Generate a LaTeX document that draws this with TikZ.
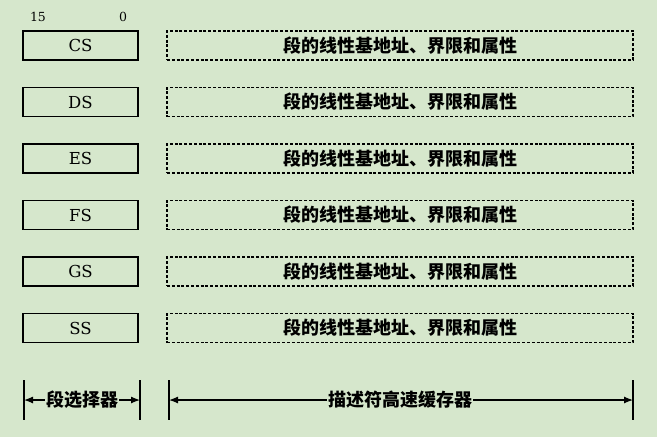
\documentclass[tikz,border=0pt]{standalone}
\usepackage{fontspec}
\newfontfamily\cjk{Noto Sans CJK SC}
\newfontfamily\lat{DejaVu Serif}
\usetikzlibrary{arrows.meta}
\definecolor{fond}{RGB}{214,231,204}
\tikzset{
  reg/.style={draw, line width=1.6pt, minimum width=115pt, minimum height=29pt,
    inner sep=0pt, font=\lat\fontsize{16.5}{16.5}\selectfont},
  cache/.style={draw, dash pattern=on 3pt off 1.8pt, line width=1.6pt,
    minimum width=466pt, minimum height=29pt, inner sep=0pt,
    font=\cjk\bfseries\fontsize{18}{18}\selectfont},
  borne/.style={line width=1.6pt},
  fleche/.style={line width=1.2pt, -{Latex[length=9pt,width=7pt]}},
  legende/.style={inner sep=1pt, font=\cjk\bfseries\fontsize{18}{18}\selectfont}
}
\begin{document}
\begin{tikzpicture}[x=1pt,y=-1pt]
  \fill[fond] (0,0) rectangle (657,437);
  \useasboundingbox (0,0) rectangle (657,437);
  \node[font=\lat\fontsize{12.5}{12.5}\selectfont] (bitA) at (38,17) {15};
  \node[font=\lat\fontsize{12.5}{12.5}\selectfont] (bitB) at (123,17) {0};
  % registres et descripteurs
  \foreach \i/\r in {0/CS,1/DS,2/ES,3/FS,4/GS,5/SS}{
    \node[reg] (reg\r) at (80.5,{45.5+56.5*\i}) {\r};
    \node[cache] (desc\r) at (400,{45.5+56.5*\i}) {段的线性基地址、界限和属性};
    }
  % bornes du bas
  \foreach \n/\x in {gA/24,gB/140,dA/169,dB/633}{
    \coordinate (\n) at (\x,400);
    \draw[borne] (\x,380) -- (\x,420);
    }
  \node[legende] (sel) at (82,400) {段选择器};
  \node[legende] (desc) at (400,400) {描述符高速缓存器};
  \draw[fleche] (sel) -- (gA);
  \draw[fleche] (sel) -- (gB);
  \draw[fleche] (desc) -- (dA);
  \draw[fleche] (desc) -- (dB);
\end{tikzpicture}
\end{document}
